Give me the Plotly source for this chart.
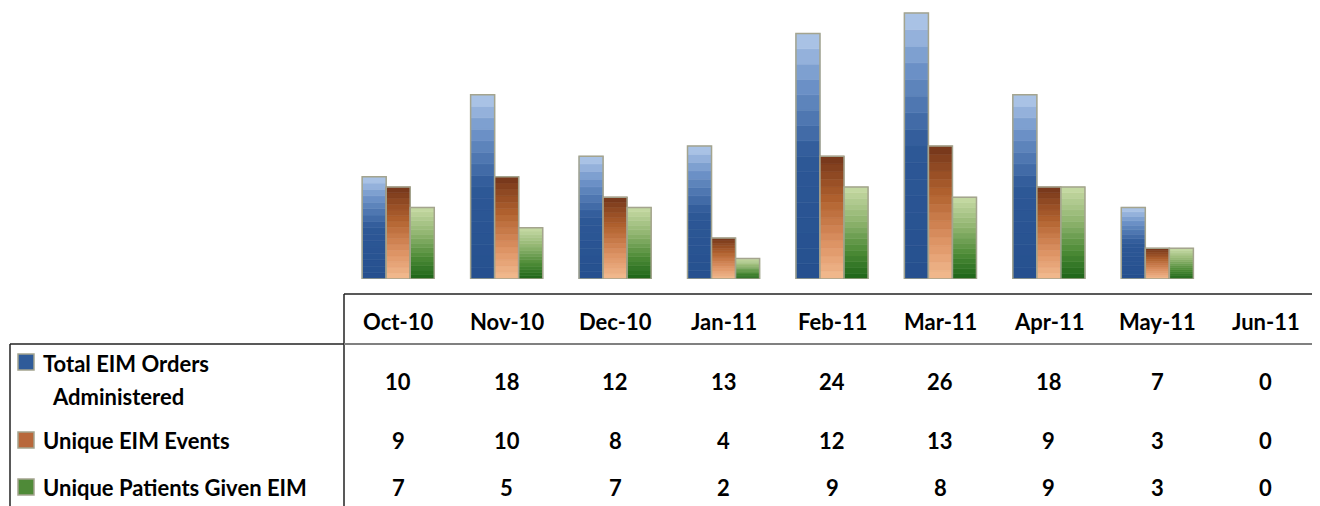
import plotly.graph_objects as go

months = ["Oct-10", "Nov-10", "Dec-10", "Jan-11", "Feb-11", "Mar-11", "Apr-11", "May-11", "Jun-11"]
series_names = ["Total EIM Orders Administered", "Unique EIM Events", "Unique Patients Given EIM"]
total_orders = [10, 18, 12, 13, 24, 26, 18, 7, 0]
unique_events = [9, 10, 8, 4, 12, 13, 9, 3, 0]
unique_patients = [7, 5, 7, 2, 9, 8, 9, 3, 0]
series_values = [total_orders, unique_events, unique_patients]

# colour stops (top -> bottom) used to shade each bar
gradients = [
    [(0.0, "#b4cbea"), (0.2, "#6f94c9"), (0.5, "#2d5897"), (1.0, "#26508e")],
    [(0.0, "#74351a"), (0.35, "#b0612e"), (0.7, "#dc9162"), (1.0, "#f2bb90")],
    [(0.0, "#c8dba6"), (0.35, "#93b672"), (0.7, "#4c8a36"), (1.0, "#1d6418")],
]
key_colors = ["#2f5b99", "#b8683b", "#4f8a38"]
border = "#a4a48e"
CLEAR = "rgba(0,0,0,0)"

# the page places the figure 8 px from its top-left corner
OFF = 8
W, H = 1320 - OFF, 506 - OFF
FONT = "Lato"
NSEG = 16


def px(x_px):
    return (x_px - OFF) / W


def py(y_px):
    return (H - (y_px - OFF)) / H


def hex2rgb(h):
    h = h.lstrip("#")
    return tuple(int(h[i:i + 2], 16) for i in (0, 2, 4))


def color_at(stops, t):
    for (t0, c0), (t1, c1) in zip(stops[:-1], stops[1:]):
        if t <= t1:
            f = (t - t0) / (t1 - t0) if t1 > t0 else 0
            a, b = hex2rgb(c0), hex2rgb(c1)
            return "rgb(%d,%d,%d)" % tuple(round(a[i] + (b[i] - a[i]) * f) for i in range(3))
    return stops[-1][1]


fig = go.Figure()
for s, (name, vals, stops) in enumerate(zip(series_names, series_values, gradients)):
    # shaded segments: segment k (from the bottom) of each bar
    for k in range(NSEG):
        t = 1 - (k + 0.5) / NSEG
        col = color_at(stops, t)
        fig.add_trace(go.Bar(
            x=months, y=[v / NSEG for v in vals], base=[v * k / NSEG for v in vals],
            offsetgroup=str(s), name=name,
            marker=dict(color=col, line=dict(color=[col if v > 0 else CLEAR for v in vals], width=0.6)),
            showlegend=False, hoverinfo="skip",
        ))
    # outline of each bar (none for empty months)
    fig.add_trace(go.Bar(
        x=months, y=vals, offsetgroup=str(s), name=name,
        marker=dict(color=CLEAR,
                    line=dict(color=[border if v > 0 else CLEAR for v in vals], width=1.5)),
        showlegend=False,
    ))

annotations = []
shapes = []
txt_font = dict(family=FONT, size=22, color="#000000")

# month header row
for m in months:
    annotations.append(dict(x=m, xref="x", y=py(321), yref="paper", text="<b>%s</b>" % m,
                            showarrow=False, xanchor="center", yanchor="middle", font=txt_font))

# value rows
row_y = [381, 440, 487]
for vals, ry in zip(series_values, row_y):
    for m, v in zip(months, vals):
        annotations.append(dict(x=m, xref="x", y=py(ry), yref="paper", text="<b>%d</b>" % v,
                                showarrow=False, xanchor="center", yanchor="middle", font=txt_font))

# legend labels
legend_rows = [
    ("Total EIM Orders", 363, 41),
    ("Administered", 396, 50),
    ("Unique EIM Events", 440, 41),
    ("Unique Patients Given EIM", 487, 41),
]
for txt, ry, lx in legend_rows:
    annotations.append(dict(x=px(lx), xref="paper", y=py(ry), yref="paper", text="<b>%s</b>" % txt,
                            showarrow=False, xanchor="left", yanchor="middle", font=txt_font))

# legend keys
for c, ry in zip(key_colors, [362, 440, 487]):
    shapes.append(dict(type="rect", xref="paper", yref="paper",
                       x0=px(18), x1=px(34), y0=py(ry - 8), y1=py(ry + 8),
                       fillcolor=c, line=dict(color=border, width=1.5)))

# table lines
line_dark = dict(color="#222222", width=1.5)
shapes += [
    dict(type="line", xref="paper", yref="paper", x0=px(344), x1=1, y0=py(294), y1=py(294), line=line_dark),
    dict(type="line", xref="paper", yref="paper", x0=px(344), x1=px(344), y0=py(294), y1=0, line=line_dark),
    dict(type="line", xref="paper", yref="paper", x0=px(10), x1=px(344), y0=py(344), y1=py(344), line=line_dark),
    dict(type="line", xref="paper", yref="paper", x0=px(344), x1=1, y0=py(344), y1=py(344),
         line=dict(color="#808080", width=2)),
    dict(type="line", xref="paper", yref="paper", x0=px(10), x1=px(10), y0=py(344), y1=0, line=line_dark),
]

fig.update_layout(
    width=W, height=H,
    margin=dict(l=0, r=0, t=0, b=0),
    paper_bgcolor="white", plot_bgcolor="white",
    barmode="group", bargap=0.335, bargroupgap=0,
    xaxis=dict(domain=[px(344), 1], range=[-0.5, 8.5], visible=False, type="category",
               fixedrange=True),
    yaxis=dict(domain=[py(279), 1], range=[0, (279 - OFF) / 10.23], visible=False, fixedrange=True),
    annotations=annotations,
    shapes=shapes,
)

fig.write_html("out.html", config={"displayModeBar": False})
